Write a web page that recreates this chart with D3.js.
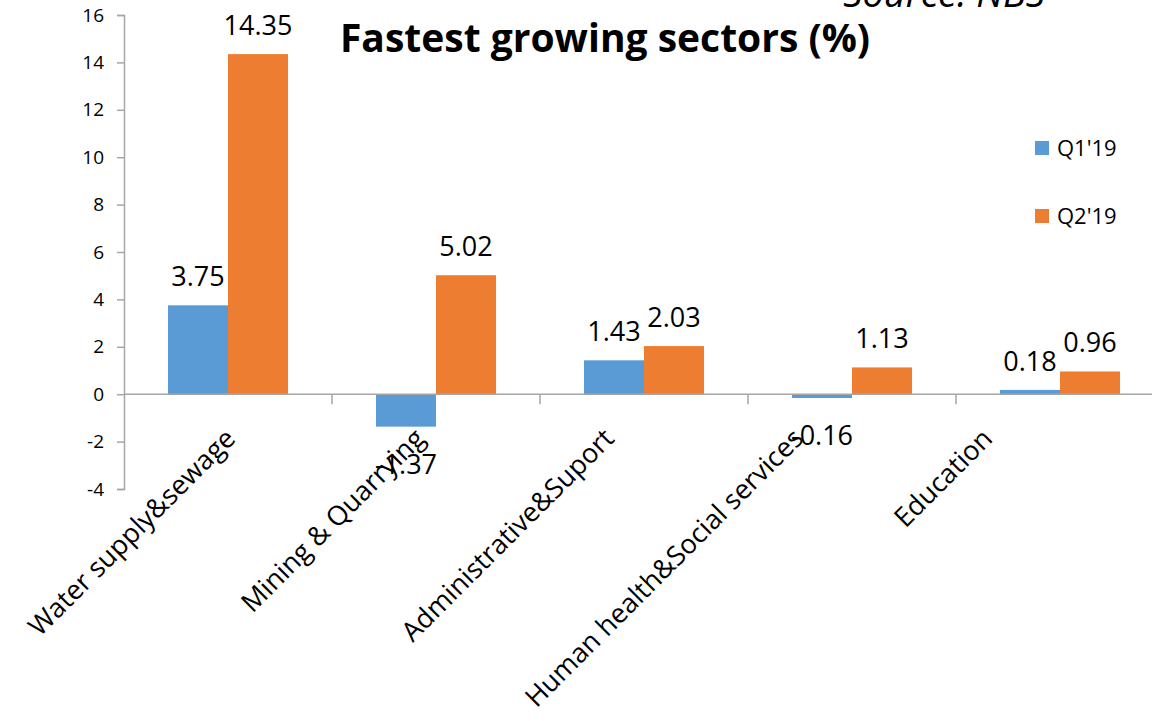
<!DOCTYPE html>
<html>
<head>
<meta charset="utf-8">
<script src="https://cdn.jsdelivr.net/npm/d3@7"></script>
<style>
  html, body { margin: 0; padding: 0; background: #fff; }
  svg { display: block; font-family: "Open Sans", "Noto Sans", sans-serif; }
</style>
</head>
<body>
<svg id="chart" width="1152" height="721"></svg>
<script>
// Sector growth, quarter on quarter (%)
const categories = [
  "Water supply&sewage",
  "Mining & Quarrying",
  "Administrative&Suport",
  "Human health&Social services",
  "Education"
];
const seriesNames = ["Q1'19", "Q2'19"];
const q1Values = [3.75, -1.37, 1.43, -0.16, 0.18];
const q2Values = [14.35, 5.02, 2.03, 1.13, 0.96];
const yTicks = [-4, -2, 0, 2, 4, 6, 8, 10, 12, 14, 16];
const seriesColors = ["#5B9BD5", "#ED7D31"];

const rows = categories.map((c, i) => ({ category: c, values: [q1Values[i], q2Values[i]] }));

// plain hyphen for negatives
const hy = f => v => f(v).replace("\u2212", "-");
const fmtTick = hy(d3.format("d"));
const fmtVal = hy(d3.format(".2f"));

const svg = d3.select("#chart");
const plotLeft = 124, plotRight = 1164, plotTop = 15, plotBottom = 489;

const x0 = d3.scaleBand().domain(categories).range([plotLeft, plotRight]).padding(0);
const x1 = d3.scaleBand().domain(seriesNames).range([0, x0.bandwidth()])
  .paddingInner(0).paddingOuter(0.733);
const y = d3.scaleLinear().domain([-4, 16]).range([plotBottom, plotTop]);

// y axis
const yAxis = svg.append("g")
  .attr("transform", `translate(${plotLeft},0)`)
  .call(d3.axisLeft(y).tickValues(yTicks).tickSize(7).tickPadding(13).tickFormat(fmtTick));
yAxis.select(".domain").attr("stroke", "#A6A6A6").attr("stroke-width", 1.5);
yAxis.selectAll(".tick line").attr("stroke", "#A6A6A6").attr("stroke-width", 1.5);
yAxis.selectAll(".tick text").attr("font-size", 19).attr("fill", "#000")
  .attr("font-family", "Open Sans");

// bars
const groups = svg.append("g").selectAll("g").data(rows).join("g")
  .attr("transform", d => `translate(${x0(d.category)},0)`);

groups.selectAll("rect")
  .data(d => d.values.map((v, k) => ({ key: seriesNames[k], v, k })))
  .join("rect")
  .attr("x", d => x1(d.key))
  .attr("width", x1.bandwidth())
  .attr("y", d => y(Math.max(0, d.v)))
  .attr("height", d => Math.abs(y(d.v) - y(0)))
  .attr("fill", d => seriesColors[d.k]);

// category axis at zero
const xAxis = svg.append("g")
  .attr("transform", `translate(0,${y(0)})`);
xAxis.append("line")
  .attr("x1", plotLeft).attr("x2", plotRight)
  .attr("stroke", "#A6A6A6").attr("stroke-width", 1.5);
xAxis.selectAll("line.tk")
  .data(categories.slice(1))
  .join("line").attr("class", "tk")
  .attr("x1", d => x0(d)).attr("x2", d => x0(d))
  .attr("y1", 0).attr("y2", 10)
  .attr("stroke", "#A6A6A6").attr("stroke-width", 1.5);

// value labels
groups.selectAll("text.val")
  .data(d => d.values.map((v, k) => ({ key: seriesNames[k], v, k })))
  .join("text").attr("class", "val")
  .attr("x", d => x1(d.key) + x1.bandwidth() / 2)
  .attr("y", d => d.v >= 0 ? y(d.v) - 19 : y(d.v) + 47)
  .attr("text-anchor", "middle")
  .attr("font-size", 27)
  .attr("fill", "#000")
  .text(d => fmtVal(d.v));

// rotated category labels
const labelPos = d3.scalePoint().domain(categories).range([237, 994]);
svg.append("g").selectAll("text").data(categories).join("text")
  .attr("transform", d => `translate(${labelPos(d)},${y(0) + 46}) rotate(-45)`)
  .attr("text-anchor", "end")
  .attr("font-size", 27)
  .attr("fill", "#000")
  .text(d => d);

// legend
const legend = svg.append("g").selectAll("g").data(seriesNames).join("g")
  .attr("transform", (d, i) => `translate(1035,${141 + i * 68})`);
legend.append("rect").attr("width", 14).attr("height", 14)
  .attr("fill", (d, i) => seriesColors[i]);
legend.append("text").attr("x", 22).attr("y", 7).attr("dy", "0.35em")
  .attr("font-size", 22).attr("fill", "#000").text(d => d);

// title and source
svg.append("text")
  .attr("x", 605).attr("y", 52)
  .attr("text-anchor", "middle")
  .attr("font-size", 39).attr("font-weight", "bold").attr("fill", "#000")
  .text("Fastest growing sectors (%)");
svg.append("text")
  .attr("x", 1045).attr("y", 7)
  .attr("text-anchor", "end")
  .attr("font-size", 38).attr("font-style", "italic").attr("fill", "#000")
  .text("Source: NBS");
</script>
</body>
</html>
